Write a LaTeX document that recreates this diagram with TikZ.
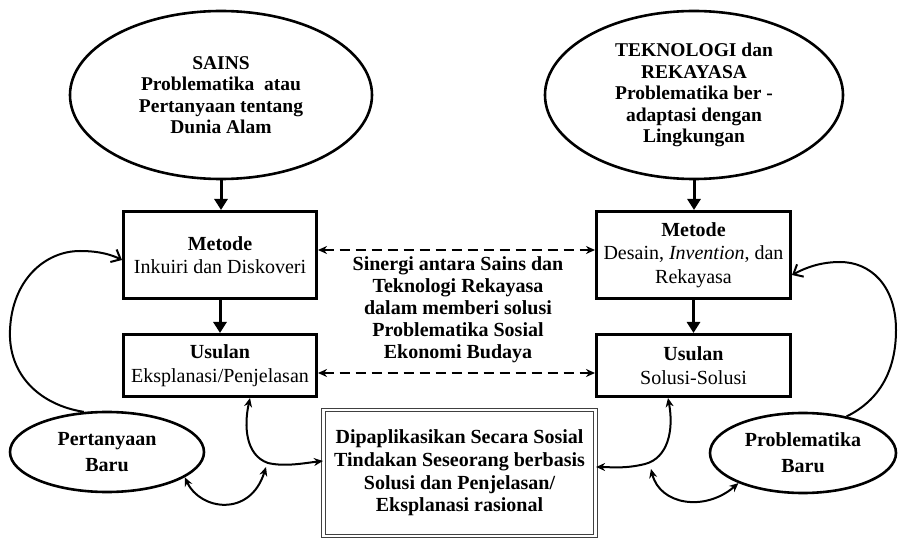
\documentclass[tikz,border=0pt]{standalone}
\usepackage{fontspec}
\setmainfont{Liberation Serif}
\usetikzlibrary{shapes.geometric,arrows.meta}
\begin{document}
\begin{tikzpicture}[x=1pt,y=-1pt,
  every node/.style={align=center, inner sep=0pt, text=black},
  oval/.style={ellipse, draw, line width=2.6pt, font=\fontsize{19.5}{21.5}\selectfont\bfseries},
  smalloval/.style={oval, font=\fontsize{20}{26}\selectfont\bfseries},
  box/.style={rectangle, draw, line width=3pt, font=\fontsize{20}{23.5}\selectfont},
  boldtext/.style={font=\fontsize{20}{22}\selectfont\bfseries},
  appbox/.style={rectangle, draw=black!75, double, line width=1.2pt, double distance=2.2pt, font=\fontsize{20}{22.7}\selectfont\bfseries},
  down/.style={line width=3pt, -{Triangle[length=11pt,width=13pt]}},
  dasharrow/.style={line width=1.8pt, dash pattern=on 10pt off 6pt, {Stealth[length=9pt,width=8pt]}-{Stealth[length=9pt,width=8pt]}},
  looparrow/.style={line width=2pt, -{Straight Barb[length=8pt,width=14pt]}},
  twoway/.style={line width=2pt, {Stealth[length=9pt,width=8pt]}-{Stealth[length=9pt,width=8pt]}}
]
\useasboundingbox (0,0) rectangle (898,540);

\node[oval, minimum width=302pt, minimum height=168pt] (sains) at (221,95)
  {SAINS\\Problematika\ \ atau\\Pertanyaan tentang\\Dunia Alam};
\node[oval, minimum width=298pt, minimum height=168pt] (tek) at (694,95)
  {TEKNOLOGI dan\\REKAYASA\\Problematika ber -\\adaptasi dengan\\Lingkungan};

\node[box, minimum width=193pt, minimum height=87pt] (metL) at (220,255)
  {\textbf{Metode}\\Inkuiri dan Diskoveri};
\node[box, minimum width=193pt, minimum height=62pt] (usL) at (220,365.5)
  {\textbf{Usulan}\\Eksplanasi/Penjelasan};
\node[box, minimum width=194pt, minimum height=87pt] (metR) at (693.5,255)
  {\textbf{Metode}\\Desain, \textit{Invention}, dan\\Rekayasa};
\node[box, minimum width=194pt, minimum height=62pt] (usR) at (693.5,365.5)
  {\textbf{Usulan}\\Solusi-Solusi};

\node[boldtext] (syn) at (458,310)
  {Sinergi antara Sains dan\\Teknologi Rekayasa\\dalam memberi solusi\\Problematika Sosial\\Ekonomi Budaya};

\node[appbox, minimum width=272pt, minimum height=126pt] (app) at (459.5,473)
  {Dipaplikasikan Secara Sosial\\Tindakan Seseorang berbasis\\Solusi dan Penjelasan/\\Eksplanasi rasional};

\node[smalloval, minimum width=194pt, minimum height=80pt] (pert) at (107,452) {Pertanyaan\\Baru};
\node[smalloval, minimum width=186pt, minimum height=80pt] (prob) at (803,453) {Problematika\\Baru};

% vertical arrows
\draw[down] (sains.south) -- (sains.south |- metL.north);
\draw[down] (metL.south) -- (usL.north);
\draw[down] (tek.south) -- (tek.south |- metR.north);
\draw[down] (metR.south) -- (usR.north);

% dashed synergy arrows
\draw[dasharrow] ([yshift=5pt]metL.east) -- ([yshift=5pt]metR.west);
\draw[dasharrow] ([yshift=-7.5pt]usL.east) -- ([yshift=-7.5pt]usR.west);

% feedback loops
\draw[looparrow] (pert.120) .. controls (40,405) and (8,375) .. (10,330)
  .. controls (12,280) and (45,251) .. (80,251)
  .. controls (100,251) and (112,255) .. ([yshift=-5pt]metL.west);
\draw[looparrow] (prob.40) .. controls (880,400) and (896,370) .. (896,330)
  .. controls (896,285) and (870,262) .. (840,262)
  .. controls (820,262) and (805,268) .. ([yshift=-20pt]metR.east);

% small two-way arrows
\coordinate (ja) at (268,463);
\coordinate (jb) at (266,467);
\coordinate (jc) at (645,464);
\coordinate (jd) at (651,469);
\draw[twoway] ([xshift=30pt]usL.south) .. controls (244,425) and (245,455) .. (ja)
  .. controls (285,467) and (305,463) .. ([yshift=12pt]app.west);
\draw[twoway] (pert.-18) .. controls (200,510) and (250,518) .. (jb);
\draw[twoway] ([xshift=-25.5pt]usR.south) .. controls (674,430) and (668,458) .. (jc)
  .. controls (625,469) and (610,467) .. ([yshift=6pt]app.east);
\draw[twoway] (jd) .. controls (660,505) and (705,512) .. (prob.205);
\end{tikzpicture}
\end{document}
